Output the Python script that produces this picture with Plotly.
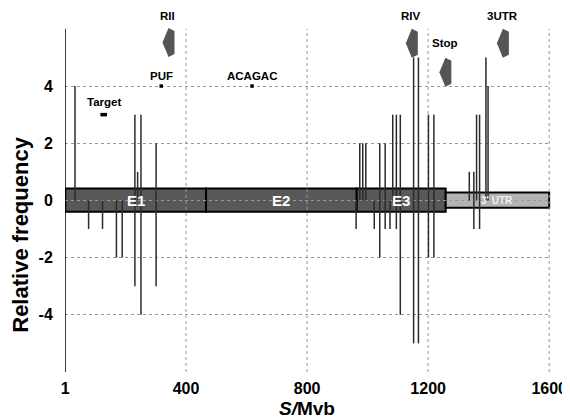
import plotly.graph_objects as go

# ---- data ----
pos_x = [33, 231, 240, 251, 301, 974, 984, 994, 1040, 1058, 1083, 1095, 1108,
         1152, 1168, 1201, 1219, 1336, 1351, 1360, 1370, 1391, 1398]
pos_y = [4, 3, 1, 3, 2, 2, 2, 2, 2, 2, 3, 3, 3, 5, 5, 3, 3, 1, 1, 3, 3, 5, 4]
neg_x = [78, 124, 170, 189, 231, 251, 301, 962, 1022, 1040, 1058, 1074, 1095,
         1108, 1152, 1168, 1201, 1219, 1351, 1370]
neg_y = [-1, -1, -2, -2, -3, -4, -3, -1, -1, -2, -1, -1, -1, -4, -5, -5, -2, -2, -1, -1]

exon_names = ["E1", "E2", "E3"]
exon_start = [1, 466, 964]
exon_end = [466, 964, 1258]
exon_label_x = [236, 715, 1110]
utr_start, utr_end = 1258, 1600

arrow_names = ["RII", "RIV", "Stop", "3UTR"]
arrow_x = [342, 1146, 1257, 1447]
arrow_top = [6.03, 6.0, 4.99, 6.0]
arrow_label_x = [340, 1144, 1257, 1447]
arrow_label_y = [6.46, 6.46, 5.52, 6.46]

site_names = ["PUF", "ACAGAC"]
site_x = [318, 618]
site_y = [4, 4]
target_x = [117, 139]
target_y = [3, 3]

xtick_vals = [1, 400, 800, 1200, 1600]
xtick_text = ["1", "400", "800", "1200", "1600"]
ytick_vals = [-4, -2, 0, 2, 4]
ytick_text = ["-4", "-2", "0", "2", "4"]

# ---- layout geometry (page has an 8px body margin) ----
W, H = 562, 410
ML, MR, MT, MB = 57, 19, 0, 46
XR = [0, 1606]
YR = [-6, 6.73]
pxu = (W - ML - MR) / (XR[1] - XR[0])
pyu = (H - MT - MB) / (YR[1] - YR[0])

FONT = "Liberation Sans, Arial, Helvetica, sans-serif"
fig = go.Figure()

# bars as thin vertical lines
def seg(xs, ys):
    X, Y = [], []
    for a, b in zip(xs, ys):
        X += [a, a, None]
        Y += [0, b, None]
    return X, Y

for xs, ys in [(pos_x, pos_y), (neg_x, neg_y)]:
    X, Y = seg(xs, ys)
    fig.add_trace(go.Scatter(x=X, y=Y, mode="lines",
                             line=dict(color="#2b2b2b", width=1.5),
                             hoverinfo="skip", showlegend=False))

# arrows (left pointing pentagons)
shape_px = [(0, 0), (6, 3), (6, 26), (0, 29), (-6, 14.5), (0, 0)]
for cx, ty in zip(arrow_x, arrow_top):
    fig.add_trace(go.Scatter(
        x=[cx + dx / pxu for dx, dy in shape_px],
        y=[ty - dy / pyu for dx, dy in shape_px],
        mode="lines", fill="toself", fillcolor="#555555",
        line=dict(width=0, color="#555555"),
        hoverinfo="skip", showlegend=False))

# target dash and site dots
fig.add_trace(go.Scatter(x=target_x, y=target_y, mode="lines",
                         line=dict(color="black", width=3.5),
                         hoverinfo="skip", showlegend=False))
fig.add_trace(go.Scatter(x=site_x, y=site_y, mode="markers",
                         marker=dict(color="black", size=3.5, symbol="square"),
                         hoverinfo="skip", showlegend=False))

shapes = []
for s, e in zip(exon_start, exon_end):
    shapes.append(dict(type="rect", xref="x", yref="y", x0=s, x1=e, y0=-0.4, y1=0.42,
                       fillcolor="#585858", line=dict(color="black", width=2),
                       layer="below"))
shapes.append(dict(type="rect", xref="x", yref="y", x0=utr_start, x1=utr_end,
                   y0=-0.26, y1=0.28, fillcolor="#b3b3b3",
                   line=dict(color="black", width=2), layer="below"))
for v in xtick_vals[1:]:
    shapes.append(dict(type="line", xref="x", yref="y", x0=v, x1=v, y0=-6, y1=6,
                       line=dict(color="#999999", width=1, dash="dot"),
                       layer="between"))
shapes.append(dict(type="line", xref="x", yref="y", x0=0, x1=0, y0=-6, y1=6,
                   line=dict(color="black", width=1.5), layer="above"))

annotations = []
for n, x in zip(exon_names, exon_label_x):
    annotations.append(dict(x=x, y=0, text="<b>%s</b>" % n,
                            showarrow=False, xref="x", yref="y",
                            font=dict(family=FONT, size=15, color="white")))
annotations.append(dict(x=1428, y=0, text="<b>3' UTR</b>", showarrow=False,
                        xref="x", yref="y",
                        font=dict(family=FONT, size=10, color="#f2f2f2")))
for n, x, y in zip(arrow_names, arrow_label_x, arrow_label_y):
    annotations.append(dict(x=x, y=y, text="<b>%s</b>" % n, showarrow=False,
                            xref="x", yref="y",
                            font=dict(family=FONT, size=11.5, color="black")))
for n, x in zip(site_names, site_x):
    annotations.append(dict(x=x, y=4.36, text="<b>%s</b>" % n, showarrow=False,
                            xref="x", yref="y",
                            font=dict(family=FONT, size=11.5, color="black")))
annotations.append(dict(x=128, y=3.46, text="<b>Target</b>", showarrow=False,
                        xref="x", yref="y",
                        font=dict(family=FONT, size=11.5, color="black")))
annotations.append(dict(x=0, xref="paper", xshift=-44, y=-1.2, yref="y",
                        text="<b>Relative frequency</b>", textangle=-90,
                        showarrow=False, xanchor="center", yanchor="middle",
                        font=dict(family=FONT, size=22, color="black")))
annotations.append(dict(x=800, xref="x", y=0, yref="paper", yshift=-36,
                        text="<b><i>S/</i>Mvb</b>", showarrow=False,
                        xanchor="center", yanchor="middle",
                        font=dict(family=FONT, size=19, color="black")))

fig.update_layout(
    width=W, height=H,
    margin=dict(l=ML, r=MR, t=MT, b=MB, autoexpand=False),
    paper_bgcolor="white", plot_bgcolor="white",
    shapes=shapes, annotations=annotations,
    showlegend=False,
    xaxis=dict(range=XR, tickvals=xtick_vals, ticktext=xtick_text,
               showgrid=False, zeroline=False, showline=False, automargin=False,
               ticks="outside", ticklen=2, tickcolor="rgba(0,0,0,0)",
               tickfont=dict(family=FONT, size=16, color="black", weight="bold")),
    yaxis=dict(range=YR, tickvals=ytick_vals, ticktext=ytick_text,
               showgrid=True, gridcolor="#999999", gridwidth=1, griddash="dot",
               zeroline=False, showline=False, automargin=False,
               ticks="outside", ticklen=8, tickcolor="rgba(0,0,0,0)",
               tickfont=dict(family=FONT, size=16, color="black", weight="bold")),
)

fig.write_html("out.html")
